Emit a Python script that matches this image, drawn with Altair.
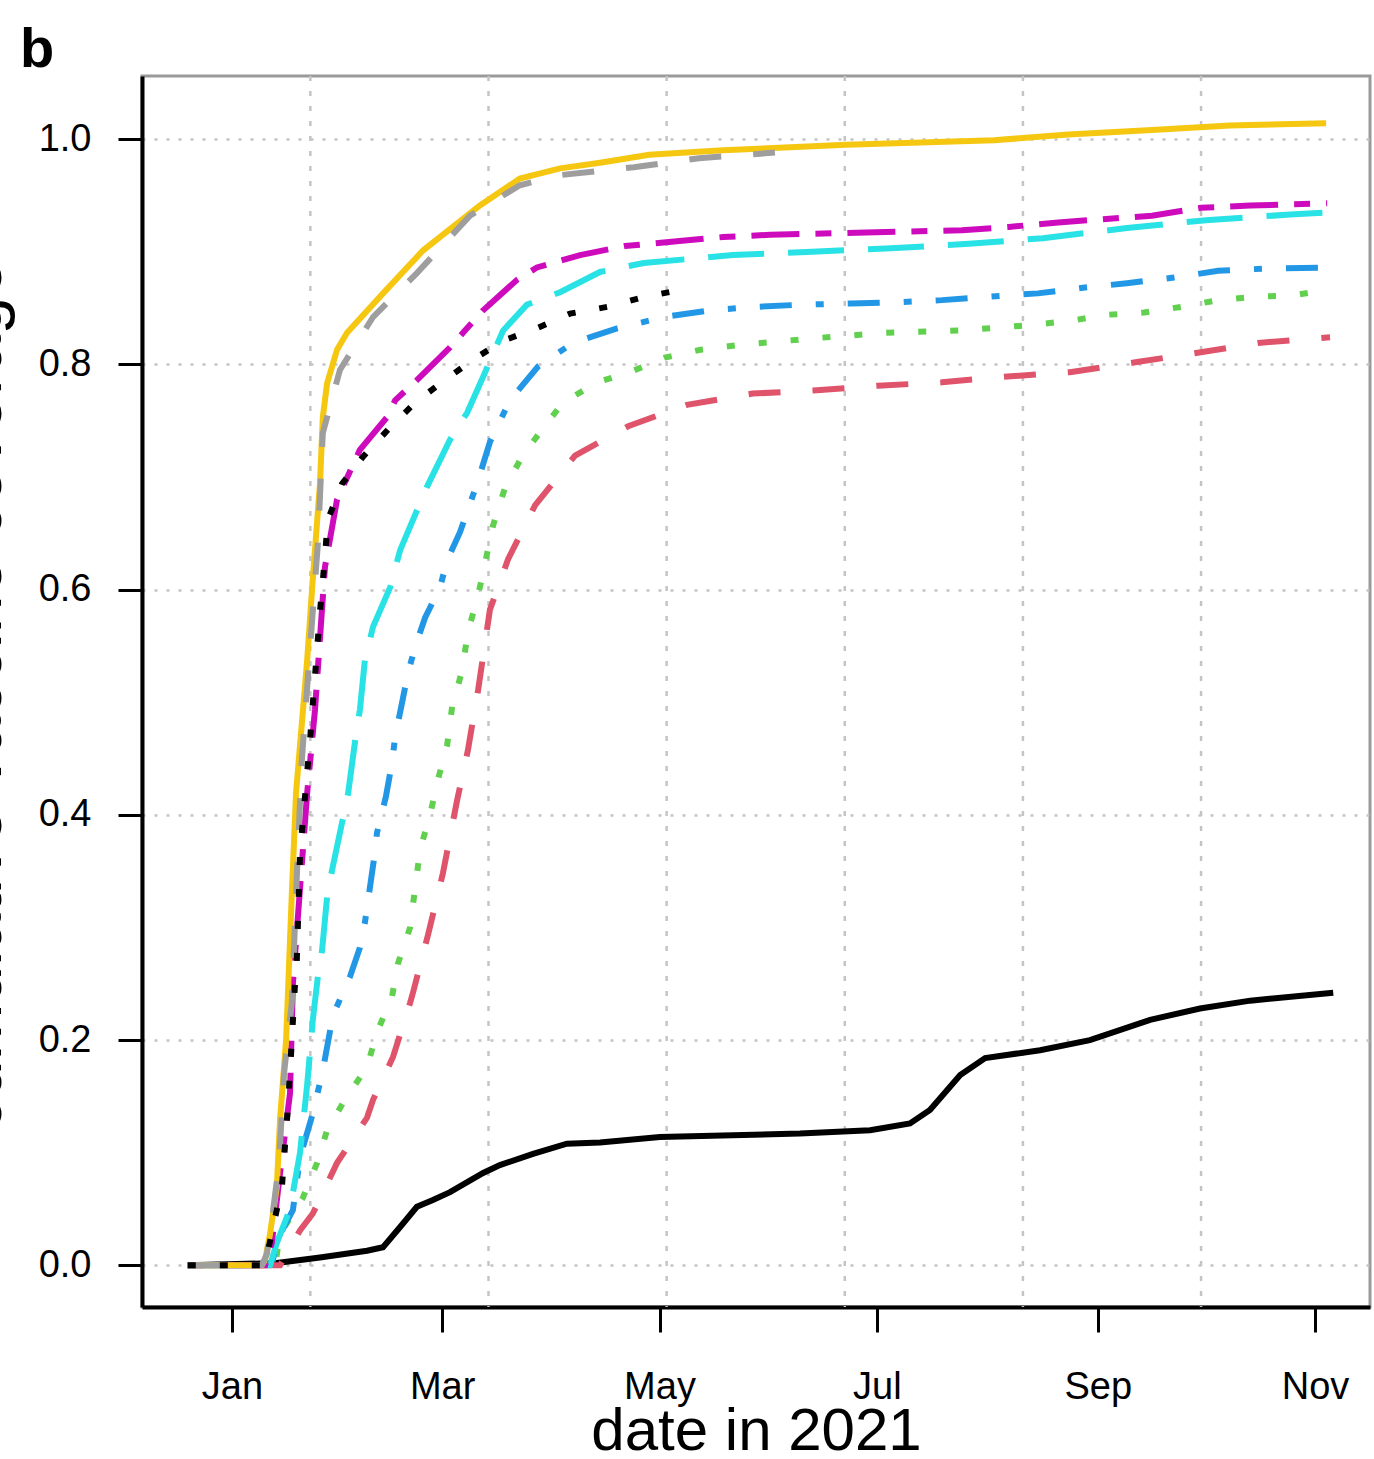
import altair as alt
import pandas as pd

START = pd.Timestamp("2021-01-01")

# days since 1 Jan 2021 / cumulative coverage
s1_days = [-12.4, 12.6, 24.7, 37.9, 42.4, 47.2, 51.9, 56.4, 61.2, 70.5, 75.2, 84.5, 94.0, 103.3, 120.1,
           159.4, 179.1, 190.3, 195.9, 204.4, 211.4, 226.8, 240.8, 257.7, 271.7, 285.8, 309.1]
s1_vals = [0.0, 0.002, 0.007, 0.013, 0.016, 0.034, 0.052, 0.058, 0.065, 0.082, 0.089, 0.099, 0.108, 0.109, 0.114,
           0.117, 0.120, 0.126, 0.138, 0.169, 0.184, 0.191, 0.200, 0.218, 0.228, 0.235, 0.242]

s2_days = [-12.4, 13.5, 19.1, 22.7, 29.5, 37.9, 39.6, 45.2, 50.0, 50.8, 55.0, 59.2, 63.2, 66.2, 69.1, 72.4,
           77.5, 85.1, 96.3, 111.2, 127.7, 146.2, 164.2, 181.3, 199.3, 216.7, 235.2, 254.0, 270.6, 288.0, 308.2]
s2_vals = [0, 0, 0.031, 0.046, 0.091, 0.131, 0.147, 0.185, 0.233, 0.242, 0.293, 0.348, 0.413, 0.457, 0.511, 0.582,
           0.627, 0.675, 0.719, 0.745, 0.764, 0.774, 0.777, 0.781, 0.784, 0.789, 0.793, 0.802, 0.810, 0.819, 0.824]

s3_days = [-12.4, 12.1, 13.5, 19.9, 23.9, 26.7, 31.7, 37.9, 40.7, 44.9, 46.6, 50.0, 51.4, 52.8, 55.6, 57.8,
           60.4, 61.8, 64.6, 66.2, 69.1, 73.3, 76.6, 81.4, 87.0, 92.9, 102.5, 111.7, 121.5, 131.6, 142.0, 162.8,
           183.6, 204.4, 224.8, 236.1, 245.6, 256.0, 266.4, 276.8, 287.2, 297.5, 306.8]
s3_vals = [0, 0, 0.028, 0.060, 0.091, 0.120, 0.147, 0.176, 0.207, 0.238, 0.268, 0.300, 0.335, 0.369, 0.400, 0.431,
           0.462, 0.496, 0.528, 0.562, 0.595, 0.657, 0.690, 0.718, 0.742, 0.766, 0.784, 0.793, 0.806, 0.813, 0.817, 0.823,
           0.828, 0.830, 0.835, 0.839, 0.844, 0.846, 0.851, 0.857, 0.860, 0.861, 0.866]

s4_days = [-12.4, 11.2, 12.6, 17.1, 19.1, 22.7, 25.5, 28.1, 28.9, 33.1, 35.9, 37.3, 38.7, 40.1, 40.7, 43.2,
           44.9, 45.8, 47.7, 49.4, 51.4, 54.2, 58.4, 60.4, 64.0, 68.8, 72.4, 78.0, 85.9, 95.7, 108.1, 121.3,
           134.5, 146.8, 160.0, 173.8, 186.4, 199.3, 212.5, 226.2, 238.9, 251.2, 264.4, 276.8, 290.0, 308.2]
s4_vals = [0, 0, 0.022, 0.049, 0.096, 0.135, 0.173, 0.218, 0.226, 0.256, 0.282, 0.304, 0.335, 0.366, 0.384, 0.416,
           0.446, 0.469, 0.499, 0.526, 0.549, 0.575, 0.602, 0.626, 0.651, 0.694, 0.731, 0.768, 0.798, 0.819, 0.832, 0.842,
           0.848, 0.851, 0.853, 0.854, 0.855, 0.857, 0.860, 0.863, 0.868, 0.872, 0.877, 0.883, 0.885, 0.886]

s5_days = [-12.4, 10.7, 12.6, 16.3, 19.1, 21.1, 22.7, 24.1, 25.3, 26.7, 28.1, 30.9, 32.6, 34.5, 35.9, 37.3,
           39.6, 44.4, 47.2, 54.7, 61.2, 66.0, 70.5, 76.1, 82.8, 92.1, 103.3, 115.6, 140.6, 162.8, 185.0, 206.9,
           227.6, 251.2, 273.4, 297.0, 308.2]
s5_vals = [0, 0, 0.020, 0.050, 0.100, 0.160, 0.218, 0.256, 0.280, 0.327, 0.351, 0.393, 0.419, 0.464, 0.493, 0.537,
           0.567, 0.602, 0.635, 0.691, 0.733, 0.757, 0.789, 0.830, 0.853, 0.864, 0.882, 0.890, 0.897, 0.900, 0.903, 0.907,
           0.912, 0.921, 0.928, 0.933, 0.935]

s6_days = [-12.4, 9.3, 11.2, 13.5, 16.3, 17.1, 21.1, 23.3, 26.1, 29.5, 35.9, 43.5, 45.8, 51.9, 61.2, 65.4,
           70.5, 80.0, 85.6, 97.7, 110.3, 124.1, 137.8, 151.0, 178.0, 204.9, 218.1, 231.9, 258.2, 272.0, 285.8, 307.4]
s6_vals = [0, 0, 0.020, 0.082, 0.153, 0.250, 0.419, 0.493, 0.620, 0.680, 0.724, 0.753, 0.768, 0.786, 0.815, 0.830,
           0.848, 0.875, 0.886, 0.897, 0.905, 0.909, 0.913, 0.915, 0.917, 0.919, 0.922, 0.926, 0.932, 0.939, 0.941, 0.943]

s7_days = [-12.4, 8.4, 9.3, 10.7, 12.6, 13.5, 15.2, 16.8, 18.0, 21.1, 22.7, 24.7, 25.5, 26.7, 29.5, 32.3,
           42.4, 53.6, 69.6, 80.8, 92.1, 103.3, 117.1, 137.8, 172.4, 213.9, 234.7, 258.2, 280.1, 307.1]
s7_vals = [0, 0, 0.005, 0.028, 0.070, 0.130, 0.200, 0.330, 0.420, 0.537, 0.610, 0.694, 0.753, 0.783, 0.813, 0.828,
           0.863, 0.901, 0.941, 0.965, 0.974, 0.979, 0.986, 0.990, 0.995, 0.999, 1.004, 1.008, 1.012, 1.014]

s8_days = [-12.4, 8.4, 9.8, 11.2, 13.2, 14.6, 16.8, 18.2, 19.6, 22.5, 24.1, 25.5, 30.3, 39.6, 51.9, 66.8,
           80.8, 92.1, 112.8, 131.1, 152.4]
s8_vals = [0, 0, 0.010, 0.040, 0.090, 0.170, 0.233, 0.345, 0.448, 0.573, 0.640, 0.739, 0.795, 0.842, 0.881, 0.932,
           0.959, 0.968, 0.975, 0.983, 0.988]

s9_days = [-12.4, 9.3, 11.5, 14.0, 15.7, 16.8, 17.7, 18.2, 19.1, 21.9, 24.7, 26.1, 26.9, 30.9, 36.8, 43.8,
           51.4, 58.9, 67.6, 76.1, 85.6, 94.9, 105.3, 115.9, 125.8]
s9_vals = [0, 0, 0.034, 0.069, 0.140, 0.200, 0.250, 0.270, 0.366, 0.466, 0.580, 0.629, 0.662, 0.694, 0.718, 0.742,
           0.766, 0.784, 0.804, 0.821, 0.832, 0.845, 0.851, 0.860, 0.866]

series_colors = ["black", "#DF536B", "#61D04F", "#2297E6", "#28E2E5", "#CD0BBC", "#F5C710", "#9E9E9E", "black"]
series_dashes = [None, [32, 32], [8, 24], [8, 24, 32, 24], [56, 24], [16, 16, 48, 16], None, [32, 32], [8, 24]]

x_tick_dates = ["2021-01-01", "2021-03-01", "2021-05-01", "2021-07-01", "2021-09-01", "2021-11-01"]
x_grid_dates = ["2021-01-23", "2021-03-14", "2021-05-03", "2021-06-22", "2021-08-11", "2021-09-30"]
y_ticks = [0.0, 0.2, 0.4, 0.6, 0.8, 1.0]

FONT = "Liberation Sans"

all_days = [s1_days, s2_days, s3_days, s4_days, s5_days, s6_days, s7_days, s8_days, s9_days]
all_vals = [s1_vals, s2_vals, s3_vals, s4_vals, s5_vals, s6_vals, s7_vals, s8_vals, s9_vals]


def dt(s):
    t = pd.Timestamp(s)
    return alt.DateTime(year=t.year, month=t.month, date=t.day, hours=t.hour)


xscale = alt.Scale(domain=[dt("2020-12-06 18:00"), dt("2021-11-16 10:00")])
yscale = alt.Scale(domain=[-0.037, 1.056], nice=False, zero=False)

xaxis = alt.Axis(
    values=[dt(s) for s in x_tick_dates], format="%b", grid=False,
    labelFont=FONT, labelFontSize=38, labelColor="black", labelPadding=36,
    tickSize=25, tickWidth=3, tickColor="black",
    domainColor="black", domainWidth=4,
    title="date in 2021", titleFont=FONT, titleFontSize=60, titleFontWeight="normal",
    titleColor="black", titleY=142, titleBaseline="alphabetic",
)
yaxis = alt.Axis(
    values=y_ticks, format=".1f", grid=True, gridDash=[3, 9], gridColor="#c4c4c4", gridWidth=2.5,
    labelFont=FONT, labelFontSize=38, labelColor="black", labelPadding=27,
    tickSize=24, tickWidth=3, tickColor="black",
    domainColor="black", domainWidth=4,
    title="cumulative vaccine coverage", titleFont=FONT, titleFontSize=68, titleFontWeight="normal",
    titleColor="black", titleAngle=270, titleX=-142, titleY=619, titleAlign="center",
    titleBaseline="alphabetic",
)

xenc = alt.X("date:T", scale=xscale, axis=xaxis)
yenc = alt.Y("value:Q", scale=yscale, axis=yaxis)

grid_df = pd.DataFrame({"date": pd.to_datetime(x_grid_dates)})
layers = [
    alt.Chart(grid_df).mark_rule(color="#c4c4c4", strokeDash=[5, 10], strokeWidth=2.5).encode(x=xenc)
]

for days, vals, col, dash in zip(all_days, all_vals, series_colors, series_dashes):
    df = pd.DataFrame({
        "date": START + pd.to_timedelta(days, unit="D"),
        "value": vals,
    })
    kw = dict(color=col, strokeWidth=6, clip=True)
    if dash is not None:
        kw["strokeDash"] = dash
    layers.append(alt.Chart(df).mark_line(**kw).encode(x=xenc, y=yenc))

label_df = pd.DataFrame({"label": ["b"]})
layers.append(
    alt.Chart(label_df).mark_text(font=FONT, fontSize=56, fontWeight="bold", align="left",
                                  baseline="alphabetic", color="black")
    .encode(x=alt.value(-122), y=alt.value(-9), text="label:N")
)

chart = alt.layer(*layers).properties(
    width=1228, height=1231,
    padding={"left": 142, "top": 76, "right": 4, "bottom": 152},
    autosize=alt.AutoSizeParams(type="none"),
    background="white",
).configure_view(stroke="#9a9a9a", strokeWidth=3)

chart.save("out.html", embed_options={"renderer": "svg", "actions": False})
